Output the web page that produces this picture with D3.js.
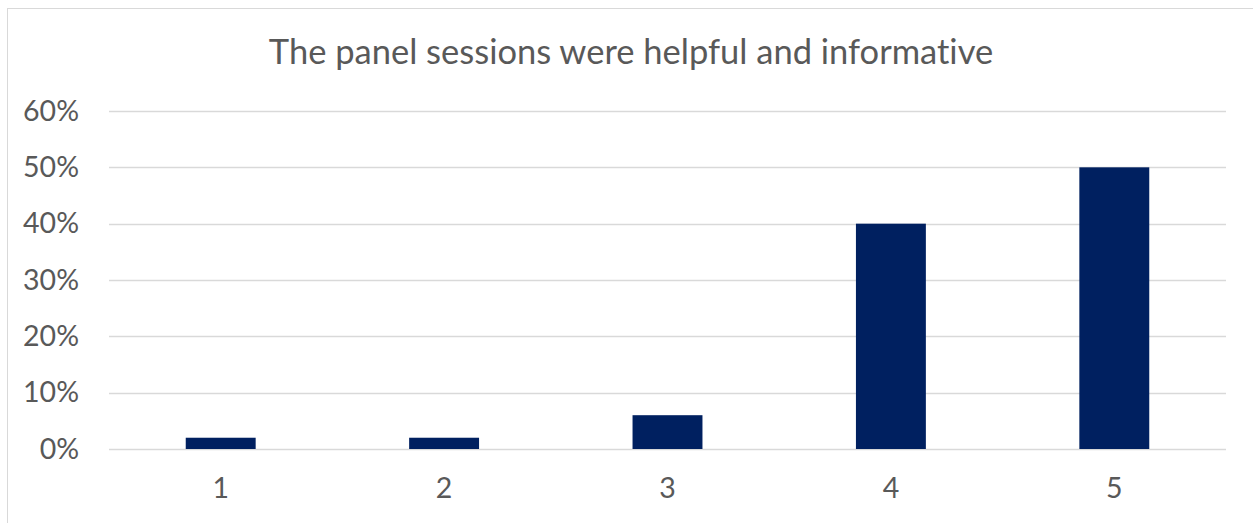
<!DOCTYPE html>
<html><head><meta charset="utf-8">
<script src="https://cdn.jsdelivr.net/npm/d3@7"></script>
<style>body{margin:0;background:#fff}svg{display:block}text{font-family:Lato,"Open Sans",sans-serif;fill:#595959;font-variant-ligatures:none;font-feature-settings:"liga" 0,"dlig" 0}</style>
</head><body><svg id="c" width="1253" height="523"></svg>
<script>
const categories = ["1","2","3","4","5"];
const values = [0.02,0.02,0.06,0.40,0.50];
const yTicks = [0,0.1,0.2,0.3,0.4,0.5,0.6];
const title = "The panel sessions were helpful and informative";

const svg = d3.select("#c");
svg.append("rect").attr("x",7.5).attr("y",8.5).attr("width",1260).attr("height",530)
  .attr("fill","#fff").attr("stroke","#d9d9d9").attr("stroke-width",1);
const m = {l:109,r:1226,t:111,b:449};
const x = d3.scaleBand().domain(categories).range([m.l,m.r]).paddingInner(0.687).paddingOuter(0.3435);
const y = d3.scaleLinear().domain([0,0.6]).range([m.b,m.t]);

const g = svg.append("g");
g.selectAll("line.grid").data(yTicks).join("line").attr("class","grid")
  .attr("x1",m.l).attr("x2",m.r).attr("y1",d=>Math.round(y(d))+0.5).attr("y2",d=>Math.round(y(d))+0.5)
  .attr("stroke","#d9d9d9").attr("stroke-width",1.5);
g.selectAll("rect.bar").data(values).join("rect").attr("class","bar")
  .attr("x",(d,i)=>x(categories[i])).attr("width",x.bandwidth())
  .attr("y",d=>y(d)).attr("height",d=>y(0)-y(d)).attr("fill","#002060");
const yAxis = d3.axisLeft(y).tickValues(yTicks).tickFormat(d3.format(".0%")).tickSize(0).tickPadding(0);
const ya = svg.append("g").attr("transform",`translate(79,0)`).call(yAxis);
ya.select(".domain").remove();
ya.selectAll("text").attr("font-size",28.5).style("font-family","Lato,'Open Sans',sans-serif").attr("fill","#595959");
const xAxis = d3.axisBottom(x).tickSize(0).tickPadding(0);
const xa = svg.append("g").attr("transform",`translate(0,478)`).call(xAxis);
xa.select(".domain").remove();
xa.selectAll("text").attr("font-size",28.5).style("font-family","Lato,'Open Sans',sans-serif").attr("fill","#595959");
svg.append("text").attr("x",631).attr("y",64).attr("text-anchor","middle").attr("font-size",34.5).text(title);
</script></body></html>
